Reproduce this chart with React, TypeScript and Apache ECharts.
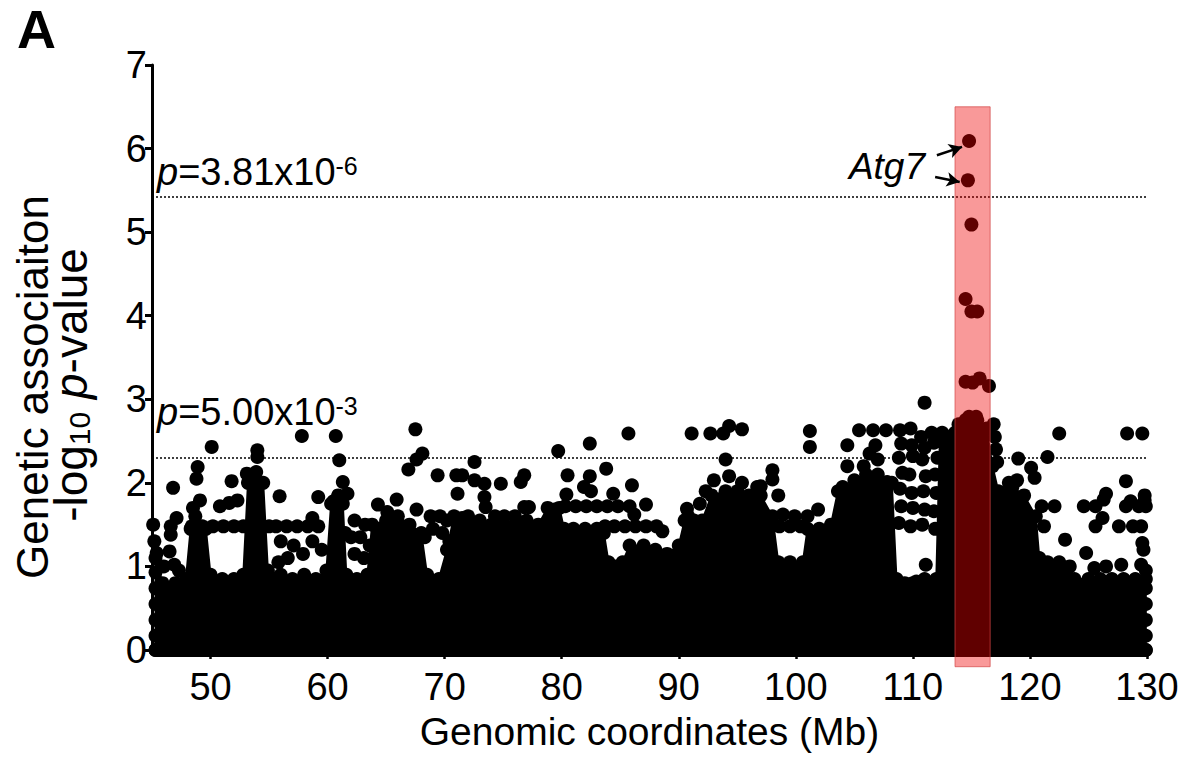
import React, { useEffect, useRef } from "react";
import * as echarts from "echarts";

const FONT = "Liberation Sans, Arial, Helvetica, sans-serif";

// x-axis tick labels (Mb)
const xTicks = [50, 60, 70, 80, 90, 100, 110, 120, 130];
// significance thresholds: -log10(3.81e-6), -log10(5.00e-3)
const thresholdValues = [5.42, 2.3];

// top of the solid, fully overlapping mass of SNP points
const floorEnvelope: [number, number][] = [
  [45.3, 0], [45.3, 1.1], [45.9, 0.8], [47.0, 0.8], [47.9, 0.85], [48.3, 1.45], [49.0, 1.45], [49.6, 1.45],
  [50.0, 0.9], [51.0, 0.85], [52.0, 0.85], [52.8, 0.9], [53.2, 2.0], [53.9, 2.0], [54.5, 2.0], [54.9, 0.95],
  [56.0, 0.9], [57.0, 0.85], [58.0, 0.9], [59.0, 0.85], [59.9, 0.95], [60.3, 1.75], [60.8, 1.75], [61.3, 1.75],
  [61.6, 0.9], [62.5, 0.85], [63.4, 0.9], [63.8, 1.5], [65.0, 1.55], [66.0, 1.6], [67.0, 1.5],
  [68.0, 1.4], [68.5, 0.9], [69.5, 0.85], [70.2, 1.2], [70.8, 1.6], [71.5, 1.58], [72.0, 1.6], [73.0, 1.55],
  [74.0, 1.5], [75.0, 1.5], [76.0, 1.5], [77.0, 1.55], [78.0, 1.5], [78.8, 1.7], [79.8, 1.7],
  [80.2, 1.45], [81.0, 1.45], [82.0, 1.45], [83.0, 1.45], [83.6, 1.4], [84.0, 1.05], [84.6, 1.0], [85.2, 1.05],
  [85.8, 1.25], [87.0, 1.25], [88.0, 1.2], [89.0, 1.15], [90.0, 1.25], [90.5, 1.55], [91.3, 1.55], [92.0, 1.55],
  [92.8, 1.85], [94.0, 1.9], [95.0, 1.9], [96.0, 1.85], [97.0, 1.85], [98.0, 1.6], [98.5, 1.05], [99.5, 1.05],
  [100.6, 1.05], [101.0, 1.45], [102.0, 1.45], [103.0, 1.5], [103.6, 1.9], [104.3, 1.9], [105.0, 1.95],
  [106.0, 2.1], [107.0, 2.1], [108.2, 2.0], [108.6, 0.85], [109.3, 0.8], [110.0, 0.8], [111.0, 0.85],
  [112.0, 0.85], [112.3, 2.5], [113.0, 2.55], [113.6, 2.6], [114.5, 2.75], [115.5, 2.75],
  [116.3, 2.65], [116.8, 2.2], [117.3, 1.9], [118.5, 1.95], [119.5, 1.85], [120.5, 1.6],
  [120.8, 1.1], [121.5, 1.05], [122.5, 1.05], [123.4, 1.0], [123.8, 0.85], [125.0, 0.85],
  [126.0, 0.85], [127.0, 0.85], [128.0, 0.85], [129.0, 0.85], [129.9, 0.85], [129.9, 0],
];

// bottom row of SNPs sitting on -log10 p = 0
const baseRow: [number, number][] = [[45.3, 0], [129.9, 0]];

// individual SNPs standing out above the solid mass (and along its outer edges)
const snpPoints: [number, number][] = [
  [45.3, 0.17], [45.3, 0.36], [45.3, 0.55], [45.3, 0.74], [45.3, 0.93],
  [129.9, 0.17], [129.9, 0.36], [129.9, 0.55], [129.9, 0.74],
  [45.1, 1.5], [45.2, 1.3], [45.4, 1.16], [46.0, 1.0], [46.5, 1.18], [46.6, 1.38], [46.6, 1.48],
  [46.8, 1.94], [47.1, 1.58], [46.9, 1.02], [47.3, 0.95],
  [48.4, 1.48], [48.5, 1.7], [48.7, 1.6], [48.9, 2.19], [48.8, 2.05], [49.1, 1.79], [49.3, 1.48],
  [50.2, 1.48], [51.1, 1.48], [52.0, 1.48], [52.8, 1.48], [50.1, 2.43], [50.8, 1.72], [51.6, 1.76],
  [52.3, 1.79], [51.8, 2.02], [53.1, 2.11], [53.9, 2.13], [54.0, 2.31], [54.0, 2.39],
  [55.0, 1.48], [55.6, 1.48], [56.5, 1.48], [57.4, 1.48], [58.3, 1.48], [59.2, 1.48], [58.7, 1.58],
  [55.9, 1.84], [59.2, 1.83], [55.8, 1.05], [56.0, 1.3], [56.6, 1.1], [57.1, 1.25], [57.9, 1.15],
  [58.7, 1.3], [59.5, 1.2], [57.8, 2.56], [60.7, 2.56], [61.0, 2.27], [61.3, 2.01], [61.7, 1.87],
  [60.9, 1.85], [60.5, 1.78],
  [61.5, 1.4], [62.0, 1.35], [62.8, 1.35], [62.3, 1.55], [63.2, 1.5], [63.6, 1.25], [62.3, 1.15],
  [63.1, 1.1], [64.3, 1.74], [65.9, 1.8], [65.1, 1.65], [67.6, 1.68], [66.9, 2.16], [67.6, 2.28],
  [68.1, 2.35], [67.5, 2.64], [68.3, 1.35], [69.0, 1.45], [69.8, 1.4], [68.8, 1.6], [69.6, 1.6],
  [70.4, 1.3], [69.4, 2.09], [70.2, 1.55],
  [71.0, 2.09], [71.5, 2.09], [71.1, 1.87], [72.55, 2.25], [72.55, 2.03], [73.4, 1.99], [74.8, 1.99],
  [73.4, 1.83], [73.5, 1.71], [74.3, 1.6], [75.1, 1.6], [76.0, 1.6], [76.8, 2.09], [76.5, 2.01],
  [76.8, 1.71], [77.2, 1.71], [79.1, 1.65], [79.4, 1.68], [79.7, 2.38],
  [80.5, 2.09], [82.4, 2.08], [83.8, 2.17], [81.9, 1.95], [82.5, 1.9], [80.4, 1.86], [84.4, 1.87],
  [86.0, 1.97], [87.2, 1.74], [80.3, 1.72], [81.2, 1.72], [82.1, 1.72], [83.0, 1.72], [83.9, 1.72],
  [84.8, 1.72], [85.8, 1.72], [86.2, 1.62], [83.7, 1.48], [84.5, 1.48], [85.4, 1.48], [86.3, 1.48],
  [87.2, 1.48], [88.1, 1.48], [88.6, 1.42], [82.4, 2.47], [85.7, 2.59],
  [91.1, 2.59], [92.7, 2.59], [93.8, 2.59], [94.3, 2.68], [95.4, 2.64], [94.0, 2.28], [90.7, 1.69],
  [93.0, 2.03], [94.3, 2.08], [95.4, 2.0], [96.7, 1.95], [90.8, 1.6], [91.8, 1.75], [92.3, 1.9],
  [97.0, 1.96], [98.0, 2.04], [98.0, 2.15], [98.5, 1.85], [98.6, 1.48], [99.5, 1.48], [100.4, 1.48],
  [98.9, 1.62], [99.9, 1.6], [101.0, 1.6], [101.9, 1.68], [101.2, 2.43], [101.2, 2.62],
  [104.0, 1.95], [104.4, 2.2], [104.4, 2.45], [105.0, 2.03], [105.4, 2.63], [106.6, 2.63],
  [107.7, 2.63], [106.3, 2.35], [107.0, 2.28], [107.8, 2.01], [105.8, 2.2], [106.8, 2.45],
  [108.9, 2.63], [109.8, 2.65], [110.7, 2.55], [111.6, 2.6], [112.5, 2.6], [111.0, 2.96],
  [108.8, 1.52], [109.0, 1.72], [108.9, 1.93], [109.1, 2.12], [108.8, 2.3], [109.0, 2.47],
  [109.8, 1.48], [110.0, 1.7], [109.9, 1.88], [109.7, 2.1], [110.0, 2.32], [109.9, 2.45],
  [110.8, 1.5], [111.0, 1.68], [110.9, 1.9], [111.1, 2.08], [110.8, 2.28], [111.0, 2.42],
  [111.9, 1.45], [111.8, 1.66], [112.0, 1.88], [111.9, 2.1], [112.1, 2.3], [111.8, 2.48],
  [111.1, 1.02], [110.3, 0.82],
  [114.8, 6.09], [114.7, 5.62], [115.0, 5.09], [114.5, 4.2], [115.0, 4.05], [115.5, 4.05],
  [114.5, 3.21], [115.1, 3.2], [115.7, 3.25], [116.5, 3.16], [114.8, 2.79], [115.4, 2.79], [113.9, 2.7],
  [116.9, 2.7], [117.0, 2.55], [117.1, 2.4], [117.2, 2.25], [117.4, 1.88], [118.9, 2.03], [119.0, 2.29],
  [120.1, 2.18], [120.4, 2.06], [118.2, 2.0],
  [122.5, 2.59], [121.5, 2.31], [128.3, 2.59], [129.6, 2.59], [128.2, 2.02], [126.5, 1.87], [129.8, 1.85],
  [121.0, 1.72], [122.1, 1.72], [124.6, 1.72], [125.6, 1.72], [126.3, 1.8], [128.2, 1.72], [129.3, 1.72],
  [129.9, 1.72], [128.6, 1.78], [129.8, 1.79], [121.2, 1.48], [125.6, 1.48], [126.2, 1.58], [127.6, 1.48],
  [128.8, 1.48], [129.5, 1.48], [123.0, 1.32], [124.8, 1.16], [129.6, 1.28], [129.7, 1.2], [127.8, 1.02],
  [129.5, 1.02], [126.5, 1.0], [125.5, 0.98], [129.9, 0.95],
];

// Atg7 SNPs pointed at by arrows: [tail, head] in data coordinates
const atg7Arrows: [number, number][][] = [
  [[112.05, 5.92], [114.2, 6.02]],
  [[111.9, 5.66], [114.0, 5.6]],
];

// highlighted Atg7 region [x0, x1, y0, y1]
const highlightRegion = [113.6, 116.6, -0.2, 6.5];

export default function App() {
  const ref = useRef<HTMLDivElement>(null);

  useEffect(() => {
    if (!ref.current) return;
    const chart = echarts.init(ref.current, null, { renderer: "svg" });

    const option: any = {
      animation: false,
      backgroundColor: "#ffffff",
      textStyle: { fontFamily: FONT },
      grid: { left: 152, right: 37, top: 65, bottom: 110, containLabel: false },
      xAxis: {
        type: "value",
        min: 45,
        max: 130,
        name: "Genomic coordinates (Mb)",
        nameLocation: "middle",
        nameGap: 62,
        nameTextStyle: { fontSize: 39, color: "#000", fontFamily: FONT },
        axisLine: { show: true, onZero: false, lineStyle: { color: "#000", width: 3 } },
        axisTick: { show: true, length: 9, customValues: xTicks, lineStyle: { color: "#000", width: 2.5 } },
        axisLabel: { customValues: xTicks, fontSize: 38, color: "#000", margin: 18, fontFamily: FONT },
        splitLine: { show: false },
      },
      yAxis: {
        type: "value",
        min: 0,
        max: 7,
        interval: 1,
        axisLine: { show: true, lineStyle: { color: "#000", width: 3 } },
        axisTick: { show: true, length: 7, lineStyle: { color: "#000", width: 3 } },
        axisLabel: { fontSize: 38, color: "#000", margin: 5, fontFamily: FONT },
        splitLine: { show: false },
      },
      series: [
        {
          type: "line",
          data: floorEnvelope,
          showSymbol: true,
          symbol: "circle",
          symbolSize: 14,
          silent: true,
          clip: false,
          z: 2,
          itemStyle: { color: "#000", borderWidth: 0 },
          lineStyle: { color: "#000", width: 2, join: "round" },
          areaStyle: { color: "#000", opacity: 1 },
          markLine: {
            silent: true,
            symbol: ["none", "none"],
            z: 1,
            label: { show: false },
            lineStyle: { color: "#000", type: [2, 2], width: 1.5 },
            data: thresholdValues.map((v) => ({ yAxis: v })),
          },
        },
        {
          type: "line",
          data: baseRow,
          showSymbol: false,
          silent: true,
          clip: false,
          z: 2,
          lineStyle: { color: "#000", width: 14, cap: "round" },
        },
        {
          type: "scatter",
          data: snpPoints,
          symbol: "circle",
          symbolSize: 14,
          silent: true,
          clip: false,
          z: 3,
          itemStyle: { color: "#000", opacity: 1 },
        },
        {
          type: "custom",
          coordinateSystem: "cartesian2d",
          clip: false,
          silent: true,
          z: 10,
          data: [highlightRegion],
          encode: { x: [0, 1], y: [2, 3] },
          renderItem: (_params: any, api: any) => {
            const p1 = api.coord([api.value(0), api.value(3)]);
            const p2 = api.coord([api.value(1), api.value(2)]);
            return {
              type: "rect",
              shape: { x: p1[0], y: p1[1], width: p2[0] - p1[0], height: p2[1] - p1[1] },
              style: { fill: "rgba(240,0,0,0.4)", stroke: "rgba(210,70,70,0.7)", lineWidth: 1 },
            };
          },
        },
        {
          type: "scatter",
          data: [],
          symbolSize: 0,
          silent: true,
          z: 12,
          markLine: {
            silent: true,
            z: 12,
            symbol: ["none", "arrow"],
            symbolSize: [11, 13],
            label: { show: false },
            lineStyle: { color: "#000", type: "solid", width: 2.5 },
            data: atg7Arrows.map((a) => [{ coord: a[0] }, { coord: a[1] }]),
          },
        },
      ],
      graphic: [
        {
          type: "text",
          x: 17,
          y: 29,
          style: { text: "A", fontSize: 54, fontWeight: "bold", fontFamily: FONT, fill: "#000", verticalAlign: "middle" },
        },
        {
          type: "text",
          x: 157,
          y: 172,
          style: {
            text: "{i|p}=3.81x10{s|-6}",
            fontSize: 38,
            fontFamily: FONT,
            fill: "#000",
            verticalAlign: "middle",
            rich: {
              i: { fontSize: 38, fontStyle: "italic", fontFamily: FONT, fill: "#000" },
              s: { fontSize: 25, fontFamily: FONT, fill: "#000", verticalAlign: "top" },
            },
          },
        },
        {
          type: "text",
          x: 157,
          y: 412,
          style: {
            text: "{i|p}=5.00x10{s|-3}",
            fontSize: 38,
            fontFamily: FONT,
            fill: "#000",
            verticalAlign: "middle",
            rich: {
              i: { fontSize: 38, fontStyle: "italic", fontFamily: FONT, fill: "#000" },
              s: { fontSize: 25, fontFamily: FONT, fill: "#000", verticalAlign: "top" },
            },
          },
        },
        {
          type: "text",
          x: 925,
          y: 166,
          style: {
            text: "Atg7",
            fontSize: 37,
            fontStyle: "italic",
            fontFamily: FONT,
            fill: "#000",
            align: "right",
            verticalAlign: "middle",
          },
        },
        {
          type: "text",
          x: 32,
          y: 387,
          rotation: Math.PI / 2,
          style: {
            text: "Genetic associaiton",
            fontSize: 44,
            fontFamily: FONT,
            fill: "#000",
            align: "center",
            verticalAlign: "middle",
          },
        },
        {
          type: "text",
          x: 71,
          y: 385,
          rotation: Math.PI / 2,
          style: {
            text: "-log{b|10} {i|p}-value",
            fontSize: 46,
            fontFamily: FONT,
            fill: "#000",
            align: "center",
            verticalAlign: "middle",
            rich: {
              b: { fontSize: 30, fontFamily: FONT, fill: "#000", verticalAlign: "bottom" },
              i: { fontSize: 46, fontStyle: "italic", fontFamily: FONT, fill: "#000" },
            },
          },
        },
      ],
    };

    chart.setOption(option);
    return () => chart.dispose();
  }, []);

  return (
    <div
      ref={ref}
      style={{ position: "fixed", left: 0, top: 0, width: 1184, height: 760, background: "#fff" }}
    />
  );
}
